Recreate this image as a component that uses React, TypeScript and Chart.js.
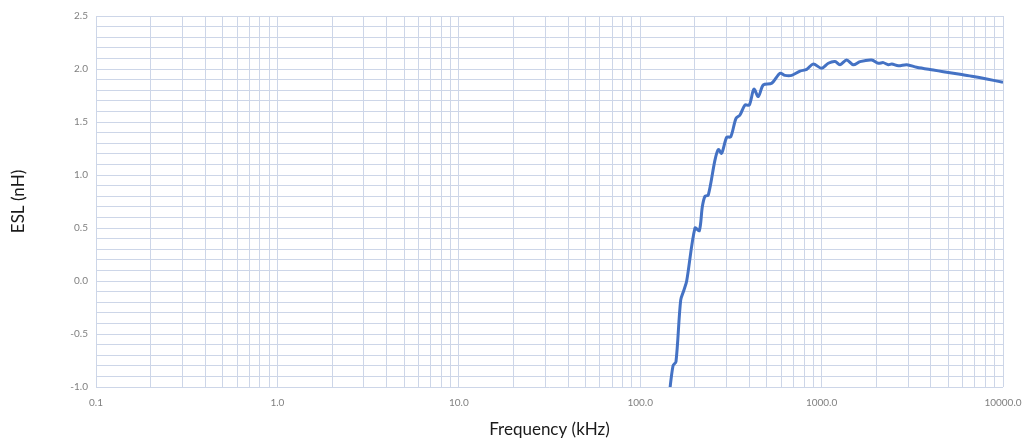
import React, { useEffect, useRef } from "react";
import { Chart, registerables } from "chart.js";

Chart.register(...registerables);

const freqKHz = [
  144, 151.7, 157.5, 167.2, 174.3, 180.4, 200.4, 211.8, 220, 227.6, 237.3, 258.3, 269.6, 281.2,
  299.8, 315.5, 337.4, 354.8, 378.2, 399.4, 423.6, 447.7, 477.3, 531, 590, 628, 684, 760, 828,
  900, 1000, 1089, 1186, 1262, 1374, 1496, 1629, 1889, 2055, 2189, 2333, 2438, 2650, 2946,
  3343, 4130, 4690, 5795, 6860, 8130, 10000,
];
const eslNH = [
  -1.1, -0.8, -0.76, -0.18, -0.085, 0.0, 0.5, 0.475, 0.7, 0.8, 0.81, 1.14, 1.24, 1.205,
  1.356, 1.36, 1.535, 1.566, 1.66, 1.66, 1.81, 1.74, 1.85, 1.865, 1.96, 1.94, 1.94, 1.98, 1.997,
  2.047, 2.007, 2.054, 2.07, 2.04, 2.085, 2.04, 2.07, 2.085, 2.054, 2.06, 2.04, 2.047, 2.03, 2.04,
  2.016, 1.99, 1.975, 1.95, 1.93, 1.906, 1.874,
];
const xDecades = [0.1, 1, 10, 100, 1000];
const xMultipliers = [1, 2, 3, 4, 5, 6, 7, 8, 9];
const xLabels = ["0.1", "1.0", "10.0", "100.0", "1000.0", "10000.0"];

const GRID = "#cdd6e8";
const TICK = "#808080";

export default function App() {
  const ref = useRef<HTMLCanvasElement>(null);
  useEffect(() => {
    if (!ref.current) return;
    const xTicks: number[] = [];
    xDecades.forEach((d) => xMultipliers.forEach((m) => xTicks.push(d * m)));
    xTicks.push(10000);
    const chart = new Chart(ref.current, {
      type: "line",
      data: {
        datasets: [
          {
            data: freqKHz.map((f, i) => ({ x: f, y: eslNH[i] })),
            borderColor: "#4472C4",
            borderWidth: 3,
            pointRadius: 0,
            tension: 0.3,
            fill: false,
          },
        ],
      },
      options: {
        animation: false,
        responsive: false,
        maintainAspectRatio: false,
        layout: { padding: { top: 16, right: 0, bottom: 0, left: 0 } },
        plugins: { legend: { display: false }, tooltip: { enabled: false } },
        scales: {
          x: {
            type: "logarithmic",
            min: 0.1,
            max: 10000,
            afterBuildTicks: (scale: any) => {
              scale.ticks = xTicks.map((v) => ({ value: v }));
            },
            afterFit: (scale: any) => {
              scale.height = 54;
              scale.paddingRight = 20;
            },
            grid: { color: GRID, lineWidth: 1, drawTicks: false },
            border: { display: false },
            ticks: {
              autoSkip: false,
              maxRotation: 0,
              padding: 10,
              color: TICK,
              font: { family: "Lato", size: 10 },
              callback: (v: any) => {
                const idx = [0.1, 1, 10, 100, 1000, 10000].findIndex((p) => Math.abs(p - v) / p < 1e-6);
                return idx >= 0 ? xLabels[idx] : "";
              },
            },
            title: {
              display: true,
              text: "Frequency (kHz)",
              color: "#1a1a1a",
              font: { family: "Lato", size: 17 },
              padding: { top: 0, bottom: 1 },
            },
          },
          y: {
            min: -1,
            max: 2.5,
            afterBuildTicks: (scale: any) => {
              const t = [];
              for (let i = -10; i <= 25; i++) t.push({ value: i / 10 });
              scale.ticks = t;
            },
            afterFit: (scale: any) => {
              scale.width = 96;
            },
            grid: { color: GRID, lineWidth: 1, drawTicks: false },
            border: { display: false },
            ticks: {
              autoSkip: false,
              padding: 8,
              color: TICK,
              font: { family: "Lato", size: 10 },
              callback: (v: any) => {
                const n = Number(v);
                return Math.abs(n * 2 - Math.round(n * 2)) < 1e-6 ? n.toFixed(1) : "";
              },
            },
            title: {
              display: true,
              text: "ESL (nH)",
              color: "#1a1a1a",
              font: { family: "Lato", size: 17 },
              padding: { top: 8, bottom: 0 },
            },
          },
        },
      },
    });
    return () => chart.destroy();
  }, []);
  return (
    <div style={{ position: "fixed", left: 0, top: 0, width: 1023, height: 441, background: "#fff" }}>
      <canvas ref={ref} width={1023} height={441} style={{ width: 1023, height: 441 }} />
    </div>
  );
}
